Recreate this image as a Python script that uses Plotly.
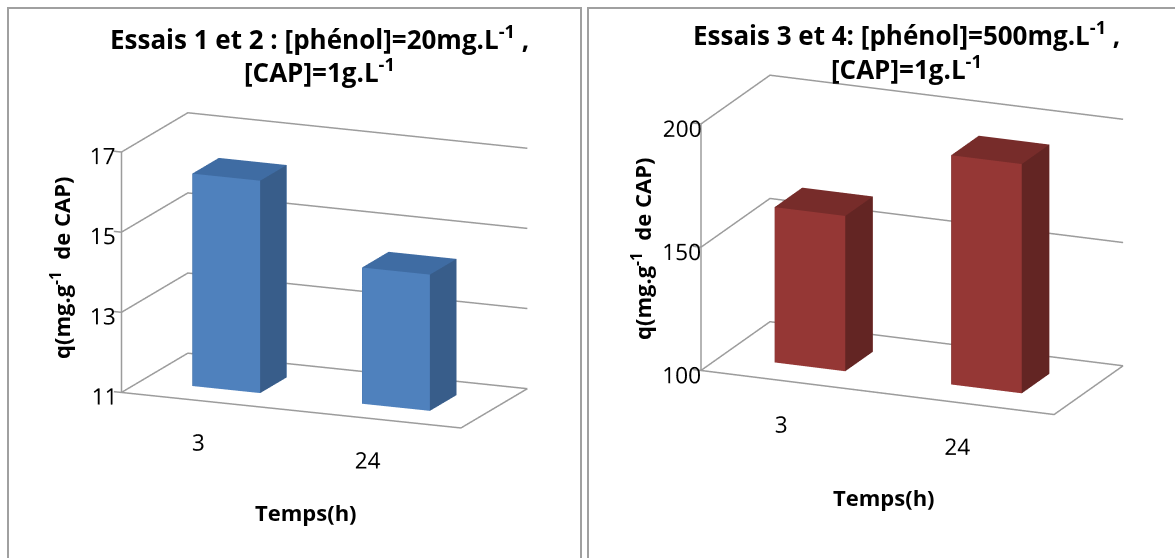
import plotly.graph_objects as go
import math

# ---------------- data ----------------
categories = ["3", "24"]
q_essais_1_2 = [16.3, 14.4]
q_essais_3_4 = [163, 193]
z_ticks_left = [11, 13, 15, 17]
z_ticks_right = [100, 150, 200]
title_left = ["<b>Essais 1 et 2 : [phénol]=20mg.L<sup>-1</sup> ,</b>", "<b>[CAP]=1g.L<sup>-1</sup></b>"]
title_right = ["<b>Essais 3 et 4: [phénol]=500mg.L<sup>-1</sup> ,</b>", "<b>[CAP]=1g.L<sup>-1</sup></b>"]
y_title = "<b>q(mg.g<sup>-1</sup>  de CAP)</b>"
x_title = "<b>Temps(h)</b>"

FONT = "Open Sans"
GRID = "#9c9c9c"
BLUE = ("#4f81bd", "#385d8a", "#3f6ca3")
RED = ("#953735", "#632523", "#772c2a")
XW = [-0.5, 1.5]          # floor / wall extent along the category axis
XR = [-0.56, 1.52]        # axis range (a little room around the walls)
YW = [0.0, 1.0]           # floor depth
YR = [-0.02, 1.02]
PAD = 0.15                # room under the floor for the category labels (fraction of value span)
TOP = 0.01
K = 1.32
TICKLEN = 0.045


def bar_box(xc, top, base, colors, scene, hw=0.2, y0=0.3, y1=0.7):
    front, side, topc = colors
    x0, x1 = xc - hw, xc + hw
    X = [x0, x1, x1, x0, x0, x1, x1, x0]
    Y = [y0, y0, y1, y1, y0, y0, y1, y1]
    Z = [base] * 4 + [top] * 4
    tri = [
        (0, 1, 5, front), (0, 5, 4, front),
        (3, 2, 6, front), (3, 6, 7, front),
        (0, 3, 7, side), (0, 7, 4, side),
        (1, 2, 6, side), (1, 6, 5, side),
        (0, 1, 2, topc), (0, 2, 3, topc),
        (4, 5, 6, topc), (4, 6, 7, topc),
    ]
    return go.Mesh3d(
        x=X, y=Y, z=Z,
        i=[t[0] for t in tri], j=[t[1] for t in tri], k=[t[2] for t in tri],
        facecolor=[t[3] for t in tri], flatshading=True,
        lighting=dict(ambient=1.0, diffuse=0.0, specular=0.0, roughness=1.0, fresnel=0.0),
        hoverinfo="skip", showscale=False, scene=scene,
    )


def line3d(xs, ys, zs, scene):
    return go.Scatter3d(x=xs, y=ys, z=zs, mode="lines", line=dict(color=GRID, width=3),
                        hoverinfo="skip", showlegend=False, scene=scene)


def wall_lines(zticks, scene):
    """grid lines on the side and back walls, floor outline, value axis and its tick marks"""
    out = []
    for z in zticks:
        out.append(line3d([XW[0], XW[0], XW[1]], [YW[0], YW[1], YW[1]], [z, z, z], scene))
        out.append(line3d([XW[0] - TICKLEN, XW[0]], [YW[0], YW[0]], [z, z], scene))
    z0 = zticks[0]
    out.append(line3d([XW[0], XW[1], XW[1]], [YW[0], YW[0], YW[1]], [z0, z0, z0], scene))
    out.append(line3d([XW[0], XW[0]], [YW[0], YW[0]], [zticks[0], zticks[-1]], scene))
    return out


th, ph = math.radians(22.8), math.radians(15.3)
R = 1.8
EYE = dict(x=R * math.cos(ph) * math.sin(th), y=-R * math.cos(ph) * math.cos(th), z=R * math.sin(ph))


def scene(zt, dom_x, cz, k):
    span = zt[-1] - zt[0]
    zr = [zt[0] - PAD * span, zt[-1] + TOP * span]
    ax_common = dict(showbackground=False, showspikes=False, zeroline=False, title=dict(text=""),
                     showline=False, showgrid=False)
    return dict(
        domain=dict(x=dom_x, y=[0.0, 1.0]),
        xaxis=dict(ax_common, range=XR, tickvals=[0, 1], ticktext=categories, ticks="",
                   tickangle=0, tickfont=dict(family=FONT, size=16.5, color="#000")),
        yaxis=dict(ax_common, range=YR, showticklabels=False, ticks=""),
        zaxis=dict(ax_common, range=zr, tickvals=zt, ticks="", tickangle=0,
                   tickfont=dict(family=FONT, size=16.5, color="#000")),
        aspectmode="manual",
        aspectratio=dict(x=k * (XR[1] - XR[0]) / 2.0,
                         y=0.465 * k * (YR[1] - YR[0]),
                         z=0.674 * k * (1 + PAD + TOP)),
        camera=dict(eye=EYE, up=dict(x=0, y=0, z=1), center=dict(x=0, y=0, z=cz),
                    projection=dict(type="orthographic")),
        bgcolor="rgba(0,0,0,0)",
    )


fig = go.Figure()
for i, v in enumerate(q_essais_1_2):
    fig.add_trace(bar_box(i, v, z_ticks_left[0], BLUE, "scene"))
for t in wall_lines(z_ticks_left, "scene"):
    fig.add_trace(t)
for i, v in enumerate(q_essais_3_4):
    fig.add_trace(bar_box(i, v, z_ticks_right[0], RED, "scene2"))
for t in wall_lines(z_ticks_right, "scene2"):
    fig.add_trace(t)

fig.update_layout(
    width=1175, height=558, margin=dict(l=0, r=0, t=0, b=0),
    paper_bgcolor="white", showlegend=False, hovermode=False, dragmode=False,
    scene=scene(z_ticks_left, [0.0, 0.546], 0.029, K),
    scene2=scene(z_ticks_right, [0.546, 1.0], -0.065, K * 1.04),
)

W, H = 1175, 558
def px(x): return x / W
def py(y): return 1 - y / H

anns = [
    dict(text=title_left[0], x=px(319), y=py(38), font=dict(size=26)),
    dict(text=title_left[1], x=px(319), y=py(71), font=dict(size=26)),
    dict(text=title_right[0], x=px(906), y=py(34), font=dict(size=26)),
    dict(text=title_right[1], x=px(906), y=py(68), font=dict(size=26)),
    dict(text=y_title, x=px(60), y=py(268), textangle=-90, font=dict(size=22)),
    dict(text=y_title, x=px(641), y=py(249), textangle=-90, font=dict(size=22)),
    dict(text=x_title, x=px(306), y=py(512), font=dict(size=22)),
    dict(text=x_title, x=px(884), y=py(497), font=dict(size=22)),
]
for a in anns:
    a.update(xref="paper", yref="paper", showarrow=False, xanchor="center", yanchor="middle")
    a["font"].update(family=FONT, color="#000")
fig.update_layout(annotations=anns)

fig.update_layout(shapes=[
    dict(type="rect", xref="paper", yref="paper", x0=px(8), x1=px(581), y0=py(565), y1=py(8),
         line=dict(color="#a0a0a0", width=2), layer="above"),
    dict(type="rect", xref="paper", yref="paper", x0=px(588), x1=px(1180), y0=py(565), y1=py(8),
         line=dict(color="#a0a0a0", width=2), layer="above"),
])

fig.write_html("out.html")
